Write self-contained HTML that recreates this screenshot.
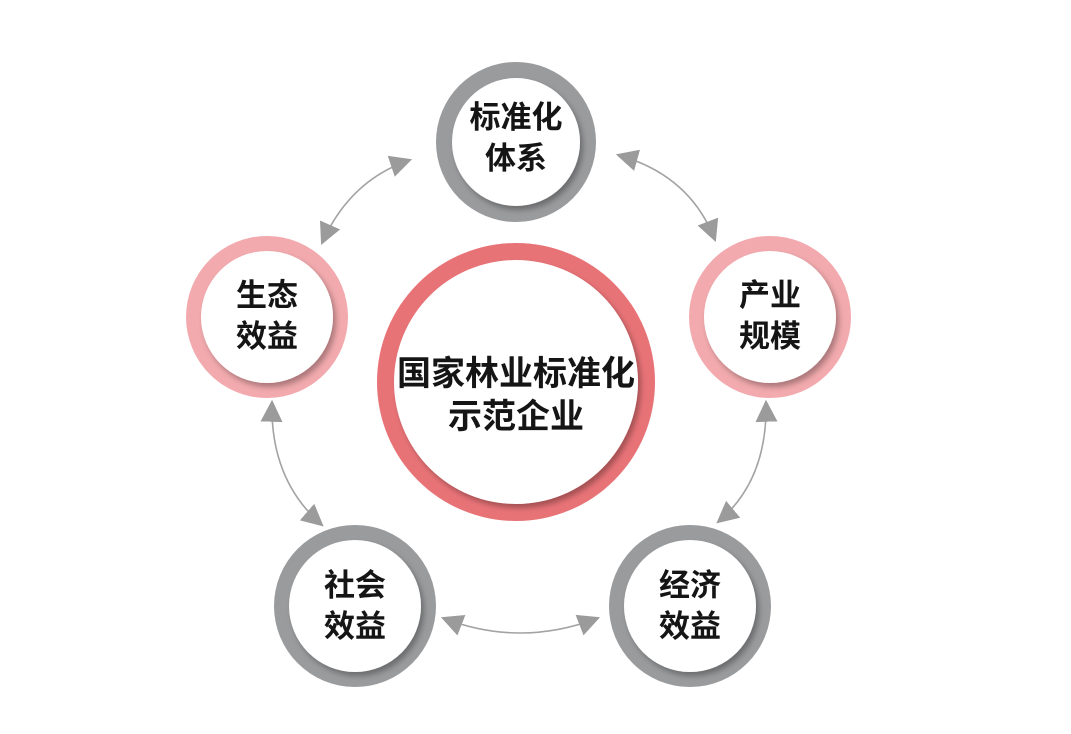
<!DOCTYPE html>
<html><head><meta charset="utf-8"><style>
html,body{margin:0;padding:0;background:#fff;}
svg{display:block}
text{font-family:"Liberation Sans","Noto Sans CJK SC",sans-serif;font-weight:bold;fill:#151515;text-anchor:middle}
</style></head><body>
<svg width="1071" height="734" viewBox="0 0 1071 734">
<defs>
<marker id="a" viewBox="0 0 10 10" refX="9" refY="5" markerWidth="22" markerHeight="22" markerUnits="userSpaceOnUse" orient="auto-start-reverse">
<path d="M0,0 L10,5 L0,10 z" fill="#9b9b9b"/></marker>
<filter id="s" x="-20%" y="-20%" width="140%" height="140%"><feDropShadow dx="3" dy="4" stdDeviation="3" flood-color="#000" flood-opacity="0.3"/></filter>
</defs>
<g fill="none" stroke="#a3a3a3" stroke-width="1.6">
<path d="M322,243 Q350,180 410,160" marker-start="url(#a)" marker-end="url(#a)"/>
<path d="M618,155 Q690,175 715,240" marker-start="url(#a)" marker-end="url(#a)"/>
<path d="M272,402 Q270,480 322,525" marker-start="url(#a)" marker-end="url(#a)"/>
<path d="M766,402 Q768,480 718,522" marker-start="url(#a)" marker-end="url(#a)"/>
<path d="M443,618 Q520,648 598,618" marker-start="url(#a)" marker-end="url(#a)"/>
</g>
<circle cx="516" cy="142" r="80" fill="#9a9b9d"/>
<circle cx="516" cy="142" r="64" fill="#fff" filter="url(#s)"/>
<circle cx="267" cy="317" r="81" fill="#f2aaae"/>
<circle cx="267" cy="317" r="66" fill="#fff" filter="url(#s)"/>
<circle cx="770" cy="317" r="81" fill="#f2aaae"/>
<circle cx="770" cy="317" r="66" fill="#fff" filter="url(#s)"/>
<circle cx="355" cy="606" r="81" fill="#9a9b9d"/>
<circle cx="355" cy="606" r="66" fill="#fff" filter="url(#s)"/>
<circle cx="690" cy="606" r="81" fill="#9a9b9d"/>
<circle cx="690" cy="606" r="66" fill="#fff" filter="url(#s)"/>
<circle cx="516" cy="382" r="139" fill="#e87377"/>
<circle cx="516" cy="382" r="122" fill="#fff" filter="url(#s)"/>
<g font-size="31">
<text x="516" y="128">标准化</text><text x="516" y="169">体系</text>
<text x="267" y="306">生态</text><text x="267" y="347">效益</text>
<text x="770" y="306">产业</text><text x="770" y="347">规模</text>
<text x="355" y="596">社会</text><text x="355" y="637">效益</text>
<text x="690" y="596">经济</text><text x="690" y="637">效益</text>
</g>
<g font-size="34">
<text x="516" y="385">国家林业标准化</text><text x="516" y="428">示范企业</text>
</g>
</svg>
</body></html>
